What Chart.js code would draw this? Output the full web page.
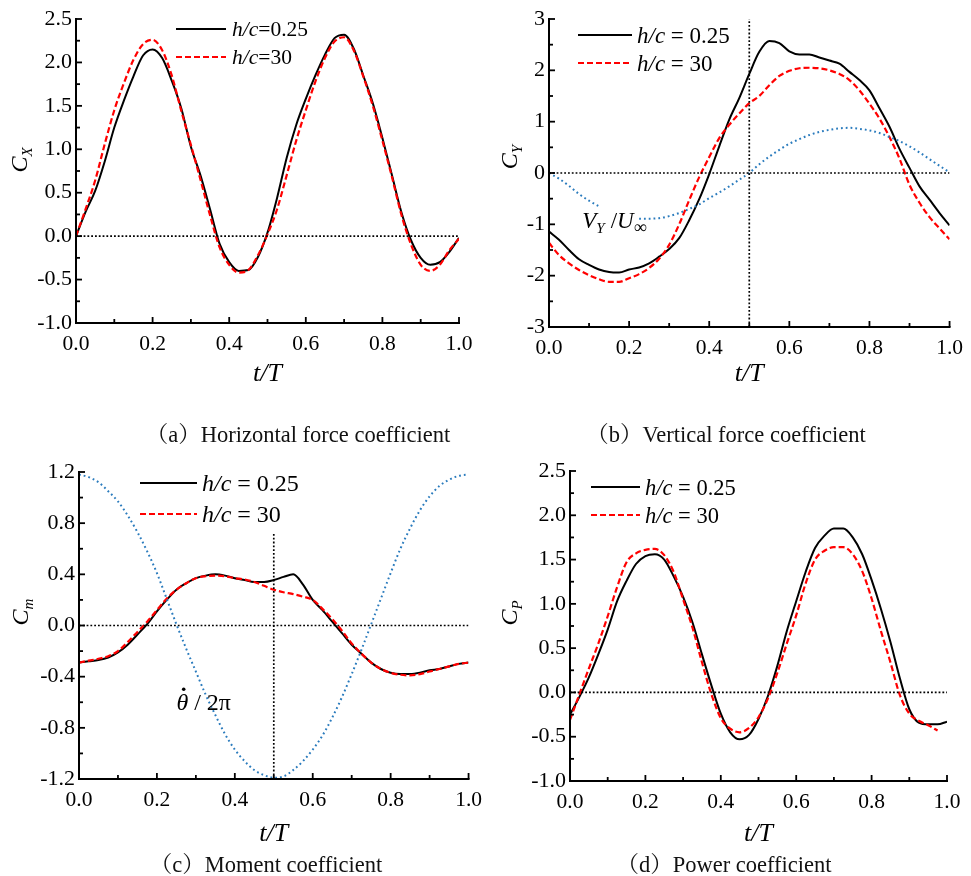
<!DOCTYPE html>
<html><head><meta charset="utf-8">
<script src="https://cdn.jsdelivr.net/npm/chart.js@4.4.1/dist/chart.umd.min.js"></script>
<style>
html,body{margin:0;padding:0;background:#fff;}
#wrap{position:relative;width:971px;height:876px;overflow:hidden;background:#fff;}
canvas{position:absolute;}
.cap{position:absolute;font-family:"Liberation Serif","Times New Roman","Noto Serif CJK SC","Noto Sans CJK SC",serif;font-size:22.5px;color:#111;white-space:nowrap;transform:translate(-50%,-50%);}
</style></head><body>
<div id="wrap">
<canvas id="ca" width="490" height="400" style="left:0;top:0"></canvas>
<canvas id="cb" width="481" height="400" style="left:490px;top:0"></canvas>
<canvas id="cc" width="490" height="436" style="left:0;top:440px"></canvas>
<canvas id="cd" width="481" height="436" style="left:490px;top:440px"></canvas>
<div class="cap" style="left:298px;top:432px">（a）Horizontal force coefficient</div>
<div class="cap" style="left:726px;top:432px">（b）Vertical force coefficient</div>
<div class="cap" style="left:266px;top:862px">（c）Moment coefficient</div>
<div class="cap" style="left:724px;top:862px">（d）Power coefficient</div>
</div>
<script>
// ---------- data (t/T sampling and series values) ----------
const T = [0,0.025,0.05,0.075,0.1,0.125,0.15,0.175,0.2,0.225,0.25,0.275,0.3,0.325,0.35,0.375,0.4,0.425,0.45,0.475,0.5,0.525,0.55,0.575,0.6,0.625,0.65,0.675,0.7,0.725,0.75,0.775,0.8,0.825,0.85,0.875,0.9,0.925,0.95,0.975,1];

// (a) horizontal force coefficient C_X
const CX_h025 = [0,0.28,0.52,0.86,1.25,1.56,1.84,2.08,2.15,2.05,1.79,1.47,1.03,0.70,0.31,-0.09,-0.30,-0.40,-0.39,-0.24,0.04,0.44,0.90,1.28,1.58,1.85,2.09,2.28,2.32,2.16,1.85,1.53,1.13,0.70,0.27,-0.05,-0.25,-0.33,-0.30,-0.18,-0.02];
const CX_h30   = [0,0.31,0.64,1.06,1.45,1.76,2.03,2.21,2.26,2.14,1.85,1.44,1.05,0.65,0.24,-0.13,-0.33,-0.42,-0.39,-0.22,0.02,0.31,0.70,1.10,1.45,1.78,2.05,2.24,2.29,2.14,1.84,1.50,1.10,0.68,0.24,-0.10,-0.33,-0.40,-0.33,-0.16,-0.03];

// (b) vertical force coefficient C_Y and V_Y/U_inf
const CY_h025 = [-1.14,-1.30,-1.50,-1.68,-1.79,-1.88,-1.93,-1.94,-1.88,-1.84,-1.76,-1.63,-1.48,-1.27,-0.92,-0.51,-0.02,0.52,1.04,1.46,1.93,2.36,2.57,2.53,2.37,2.31,2.31,2.25,2.19,2.13,1.97,1.81,1.61,1.26,0.90,0.47,0.10,-0.26,-0.52,-0.78,-1.02];
const CY_h30   = [-1.36,-1.60,-1.76,-1.89,-1.99,-2.07,-2.12,-2.12,-2.05,-1.97,-1.85,-1.67,-1.40,-1.00,-0.53,-0.08,0.31,0.68,0.94,1.16,1.36,1.50,1.71,1.89,1.99,2.04,2.05,2.04,2.00,1.93,1.81,1.61,1.35,1.06,0.70,0.28,-0.23,-0.58,-0.86,-1.08,-1.29];
const VY_Uinf  = [0,-0.11,-0.25,-0.41,-0.54,-0.65,null,null,null,-0.89,-0.89,-0.88,-0.84,-0.78,-0.70,-0.61,-0.49,-0.38,-0.26,-0.13,0,0.17,0.32,0.45,0.57,0.66,0.74,0.80,0.84,0.87,0.88,0.86,0.83,0.78,0.70,0.62,0.52,0.40,0.27,0.14,0.01];

// (c) moment coefficient C_m and pitch rate / 2pi
const CM_h025 = [-0.29,-0.28,-0.27,-0.25,-0.21,-0.15,-0.07,0.01,0.11,0.20,0.28,0.33,0.37,0.39,0.40,0.39,0.37,0.355,0.34,0.34,0.355,0.38,0.40,0.32,0.20,0.12,0.03,-0.06,-0.15,-0.22,-0.29,-0.34,-0.37,-0.38,-0.38,-0.37,-0.35,-0.34,-0.32,-0.30,-0.29];
const CM_h30   = [-0.29,-0.275,-0.26,-0.24,-0.20,-0.13,-0.05,0.03,0.12,0.21,0.28,0.33,0.37,0.385,0.39,0.385,0.37,0.36,0.34,0.31,0.28,0.26,0.245,0.225,0.20,0.13,0.05,-0.04,-0.14,-0.22,-0.29,-0.34,-0.37,-0.385,-0.39,-0.38,-0.36,-0.34,-0.32,-0.30,-0.29];
const THETADOT = [1.18,1.16,1.12,1.05,0.97,0.86,0.73,0.58,0.41,0.21,0.01,-0.18,-0.36,-0.54,-0.70,-0.85,-0.97,-1.06,-1.13,-1.17,-1.19,-1.18,-1.13,-1.06,-0.97,-0.86,-0.72,-0.56,-0.38,-0.19,0.01,0.21,0.41,0.60,0.76,0.90,1.01,1.09,1.14,1.17,1.18];

// (d) power coefficient C_P
const CP_h025 = [-0.25,-0.05,0.17,0.43,0.71,1.03,1.26,1.45,1.54,1.56,1.50,1.31,1.08,0.79,0.43,0.08,-0.24,-0.45,-0.53,-0.48,-0.30,-0.04,0.30,0.69,1.03,1.36,1.63,1.77,1.85,1.85,1.75,1.56,1.27,0.94,0.57,0.16,-0.19,-0.34,-0.36,-0.36,-0.33];
const CP_h30   = [-0.31,-0.02,0.27,0.55,0.86,1.19,1.47,1.57,1.61,1.62,1.55,1.36,1.05,0.73,0.34,-0.02,-0.29,-0.41,-0.45,-0.40,-0.28,-0.07,0.22,0.55,0.87,1.23,1.50,1.60,1.64,1.64,1.56,1.37,1.06,0.69,0.34,-0.03,-0.24,-0.32,-0.37,-0.43,null];

// reference lines
const ZERO_T = [0,1], ZERO_V = [0,0];
const MID_T = [0.5,0.5];
const MID_B = [-3,3];
const MID_C = [-1.2,0.73];

// labels
const LEG_A = ['=0.25','=30'];
const LEG_B = [' = 0.25',' = 30'];

// ---------- helpers ----------
const FAM = '"Liberation Serif","Times New Roman",serif';
const pts = (xs, ys) => xs.map((x,i)=>({x:x, y:ys[i]}));
function fstr(p){ return (p.it?'italic ':'') + p.size + 'px ' + FAM; }
function richW(ctx, parts){ let w=0; for(const p of parts){ ctx.font=fstr(p); w+=ctx.measureText(p.t).width+(p.k||0);} return w; }
function drawRich(ctx, parts, x, y){
  let cx=x;
  for(const p of parts){
    ctx.font=fstr(p);
    const w=ctx.measureText(p.t).width;
    ctx.fillText(p.t, cx, y+(p.dy||0));
    if (p.dot){ // dot accent above glyph (time derivative)
      const r=p.size*0.075;
      ctx.beginPath(); ctx.arc(cx + w*0.62, y - p.size*0.86, r, 0, Math.PI*2); ctx.fill();
    }
    cx+=w+(p.k||0);
  }
}
function fmt(v, d){ if (Math.abs(v)<1e-9) v=0; return v.toFixed(d); }

const S_BLACK = {borderColor:'#000', borderWidth:2, borderDash:[]};
const S_RED   = {borderColor:'#ff0000', borderWidth:2.2, borderDash:[6,3]};
const S_BLUE  = {borderColor:'#2a7bbd', borderWidth:2, borderDash:[1.8,3]};
const S_REF   = {borderColor:'#000', borderWidth:1.7, borderDash:[1.8,2]};

function ds(data, st, extra){ return Object.assign({data:data, pointRadius:0, fill:false, cubicInterpolationMode:'monotone', spanGaps:false, borderCapStyle:'butt'}, st, extra||{}); }

const deco = {
  id:'deco',
  afterDraw(chart, args, o){
    const ctx=chart.ctx, a=chart.chartArea, xs=chart.scales.x, ys=chart.scales.y;
    ctx.save();
    ctx.fillStyle='#000'; ctx.strokeStyle='#000'; ctx.setLineDash([]);
    // axes
    ctx.lineWidth=2; ctx.lineCap='square';
    ctx.beginPath(); ctx.moveTo(a.left, a.top); ctx.lineTo(a.left, a.bottom); ctx.lineTo(a.right, a.bottom); ctx.stroke();
    ctx.lineCap='butt'; ctx.lineWidth=1.8;
    const nx=Math.round((xs.max-xs.min)/o.xMinor);
    for(let i=0;i<=nx;i++){ const px=xs.getPixelForValue(xs.min+i*o.xMinor); const L=(i%2===0)?6:4;
      ctx.beginPath(); ctx.moveTo(px,a.bottom); ctx.lineTo(px,a.bottom-L); ctx.stroke(); }
    const ny=Math.round((ys.max-ys.min)/o.yMinor);
    for(let i=0;i<=ny;i++){ const py=ys.getPixelForValue(ys.min+i*o.yMinor); const L=(i%2===0)?6:4;
      ctx.beginPath(); ctx.moveTo(a.left,py); ctx.lineTo(a.left+L,py); ctx.stroke(); }
    // x title
    ctx.textBaseline='alphabetic'; ctx.textAlign='left';
    const xt=[{t:'t/T', it:1, size:26}];
    drawRich(ctx, xt, (a.left+a.right)/2 - richW(ctx,xt)/2, a.bottom + o.xtDy);
    // y title (rotated)
    ctx.save();
    ctx.translate(a.left + o.yt.dx, a.top + o.yt.dy); ctx.rotate(-Math.PI/2);
    drawRich(ctx, o.yt.parts, -richW(ctx,o.yt.parts)/2, 8);
    ctx.restore();
    // legend
    const lg=o.legend;
    lg.items.forEach((it,i)=>{
      const d=chart.data.datasets[it.ds];
      const y=a.top+lg.dy+i*lg.gap;
      ctx.save(); ctx.strokeStyle=d.borderColor; ctx.lineWidth=d.borderWidth; ctx.setLineDash(d.borderDash||[]);
      ctx.beginPath(); ctx.moveTo(a.left+lg.x0,y); ctx.lineTo(a.left+lg.x1,y); ctx.stroke(); ctx.restore();
      drawRich(ctx, [{t:'h/c', it:1, size:lg.size},{t:it.text, size:lg.size}], a.left+lg.tx, y+lg.size*0.34);
    });
    // annotations
    (o.notes||[]).forEach(n=>{ drawRich(ctx, n.parts, xs.getPixelForValue(n.x), ys.getPixelForValue(n.y)); });
    ctx.restore();
  }
};

function makeChart(id, W, H, area, yMin, yMax, yStep, yDec, datasets, cfg){
  return new Chart(document.getElementById(id), {
    type:'line',
    data:{datasets:datasets},
    options:{
      responsive:false, animation:false, devicePixelRatio:1,
      layout:{padding:{left:0, top:area.top, right:W-area.right, bottom:0}},
      plugins:{legend:{display:false}, tooltip:{enabled:false}, deco:cfg},
      scales:{
        x:{type:'linear', min:0, max:1,
           afterFit:s=>{ s.height = H-area.bottom; },
           grid:{display:false, drawTicks:false}, border:{display:false},
           ticks:{stepSize:0.2, autoSkip:false, maxRotation:0, padding:8, color:'#000', font:{family:FAM, size:21.5}, callback:v=>fmt(v,1)}},
        y:{type:'linear', min:yMin, max:yMax,
           afterFit:s=>{ s.width = area.left; },
           grid:{display:false, drawTicks:false}, border:{display:false},
           ticks:{stepSize:yStep, autoSkip:false, padding:4, color:'#000', font:{family:FAM, size:22}, callback:v=>fmt(v,yDec)}}
      }
    },
    plugins:[deco]
  });
}

// (a)
makeChart('ca', 490, 400, {left:76, top:19, right:459, bottom:323}, -1, 2.5, 0.5, 1, [
  ds(pts(ZERO_T, ZERO_V), S_REF, {cubicInterpolationMode:'default'}),
  ds(pts(T, CX_h30), S_RED),
  ds(pts(T, CX_h025), S_BLACK)
], {xMinor:0.1, yMinor:0.25, xtDy:58,
    yt:{dx:-57, dy:141, parts:[{t:'C', it:1, size:24},{t:'X', it:1, size:15, dy:5}]},
    legend:{x0:100, x1:150, tx:156, dy:10, gap:28, size:21.5, items:[{ds:2, text:LEG_A[0]},{ds:1, text:LEG_A[1]}]}});

// (b)
makeChart('cb', 481, 400, {left:59, top:19, right:465, bottom:327}, -3, 3, 1, 0, [
  ds(pts(ZERO_T, ZERO_V), S_REF, {cubicInterpolationMode:'default'}),
  ds(pts(MID_T, MID_B), S_REF, {cubicInterpolationMode:'default'}),
  ds(pts(T, VY_Uinf), S_BLUE),
  ds(pts(T, CY_h30), S_RED),
  ds(pts(T, CY_h025), S_BLACK)
], {xMinor:0.1, yMinor:0.5, xtDy:54,
    yt:{dx:-40, dy:138, parts:[{t:'C', it:1, size:24},{t:'Y', it:1, size:15, dy:5}]},
    legend:{x0:29, x1:83, tx:88, dy:16, gap:28, size:23, items:[{ds:4, text:LEG_B[0]},{ds:3, text:LEG_B[1]}]},
    notes:[{x:0.083, y:-1.08, parts:[{t:'V', it:1, size:23},{t:'Y', it:1, size:15, dy:5, k:6},{t:'/', size:23},{t:'U', it:1, size:23},{t:'∞', size:18, dy:5}]}]});

// (c)
makeChart('cc', 490, 436, {left:79, top:32, right:469, bottom:339}, -1.2, 1.2, 0.4, 1, [
  ds(pts(ZERO_T, ZERO_V), S_REF, {cubicInterpolationMode:'default'}),
  ds(pts(MID_T, MID_C), S_REF, {cubicInterpolationMode:'default'}),
  ds(pts(T, THETADOT), S_BLUE),
  ds(pts(T, CM_h30), S_RED),
  ds(pts(T, CM_h025), S_BLACK)
], {xMinor:0.1, yMinor:0.2, xtDy:62,
    yt:{dx:-59, dy:140, parts:[{t:'C', it:1, size:24},{t:'m', it:1, size:15, dy:5}]},
    legend:{x0:61, x1:118, tx:123, dy:11, gap:31, size:24, items:[{ds:4, text:LEG_B[0]},{ds:3, text:LEG_B[1]}]},
    notes:[{x:0.25, y:-0.66, parts:[{t:'θ', it:1, size:24, dot:1},{t:' / 2π', size:24}]}]});

// (d)
makeChart('cd', 481, 436, {left:80, top:31, right:457, bottom:341}, -1, 2.5, 0.5, 1, [
  ds(pts(ZERO_T, ZERO_V), S_REF, {cubicInterpolationMode:'default'}),
  ds(pts(T, CP_h30), S_RED),
  ds(pts(T, CP_h025), S_BLACK)
], {xMinor:0.1, yMinor:0.25, xtDy:60,
    yt:{dx:-61, dy:142, parts:[{t:'C', it:1, size:24},{t:'P', it:1, size:15, dy:5}]},
    legend:{x0:21, x1:70, tx:75, dy:16, gap:28, size:22.5, items:[{ds:2, text:LEG_B[0]},{ds:1, text:LEG_B[1]}]}});
</script>
</body></html>
